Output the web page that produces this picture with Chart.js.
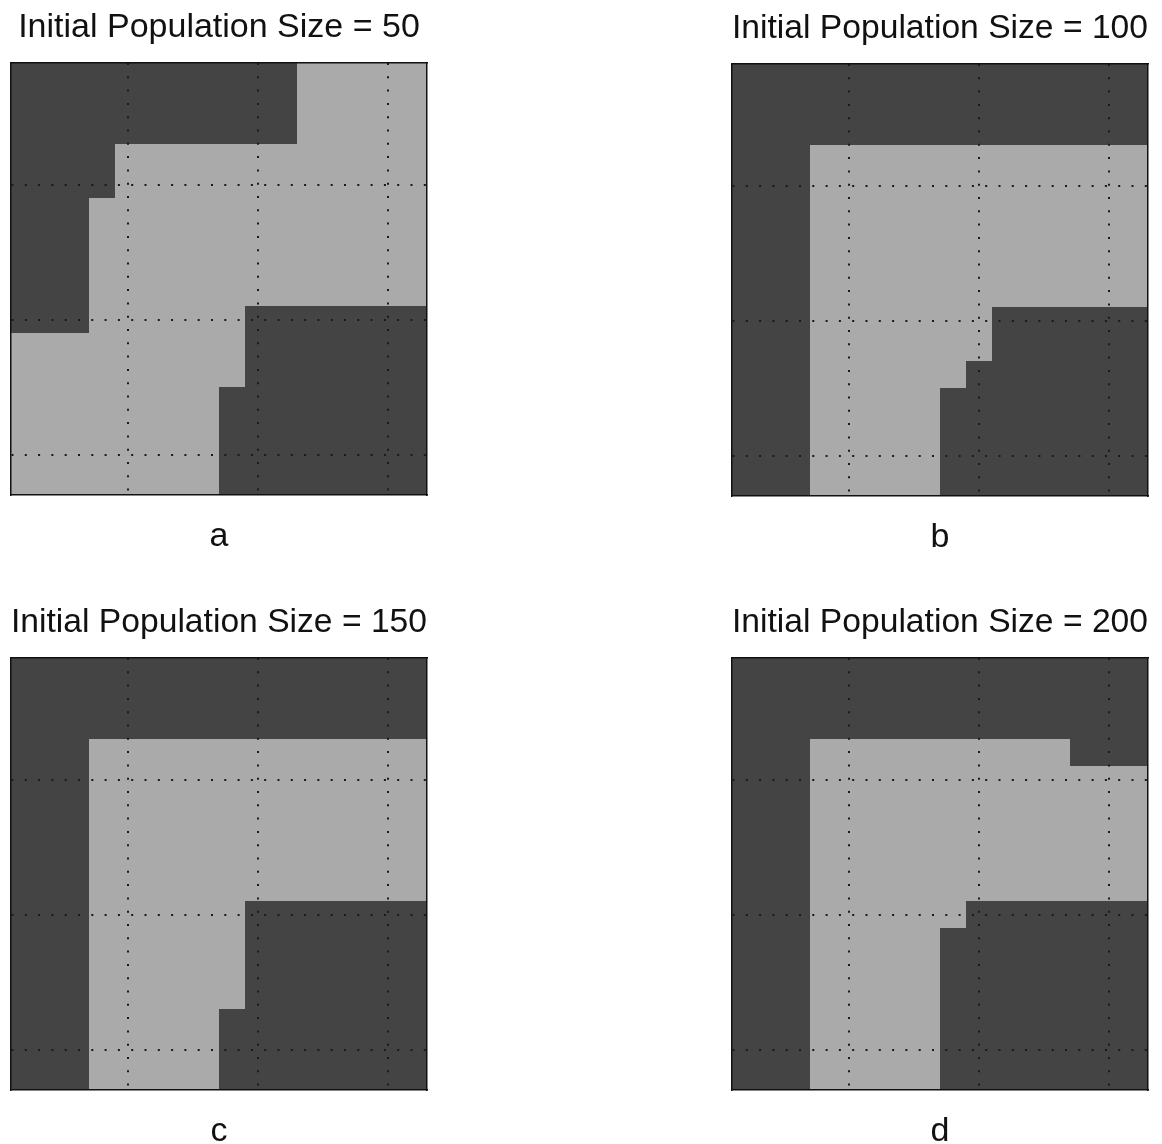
<!DOCTYPE html>
<html>
<head>
<meta charset="utf-8">
<title>Initial Population Size</title>
<script src="https://cdn.jsdelivr.net/npm/chart.js@4.4.1/dist/chart.umd.min.js"></script>
<style>
  html, body { margin: 0; padding: 0; background: #ffffff; overflow: hidden; }
  body { width: 1162px; height: 1144px; position: relative; }
  canvas.panel { position: absolute; }
</style>
</head>
<body>
<canvas id="panelA" class="panel" width="440" height="560" style="left:0px;top:0px;width:440px;height:560px"></canvas>
<canvas id="panelB" class="panel" width="440" height="560" style="left:721px;top:1px;width:440px;height:560px"></canvas>
<canvas id="panelC" class="panel" width="440" height="560" style="left:0px;top:595px;width:440px;height:560px"></canvas>
<canvas id="panelD" class="panel" width="440" height="560" style="left:721px;top:595px;width:440px;height:560px"></canvas>
<script>
// Panel titles and sub-figure letters
const panelTitles = [
  'Initial Population Size = 50',
  'Initial Population Size = 100',
  'Initial Population Size = 150',
  'Initial Population Size = 200'
];
const panelLabels = ['a', 'b', 'c', 'd'];

// Tick positions of the dotted grid (cells are numbered 1..16)
const gridTicks = [5, 10, 15];

// 16 x 16 region maps, row 1 at the top: '1' = dark region, '0' = light region
const mapA = [
  '1111111111100000',
  '1111111111100000',
  '1111111111100000',
  '1111000000000000',
  '1111000000000000',
  '1110000000000000',
  '1110000000000000',
  '1110000000000000',
  '1110000000000000',
  '1110000001111111',
  '0000000001111111',
  '0000000001111111',
  '0000000011111111',
  '0000000011111111',
  '0000000011111111',
  '0000000011111111'
];
const mapB = [
  '1111111111111111',
  '1111111111111111',
  '1111111111111111',
  '1110000000000000',
  '1110000000000000',
  '1110000000000000',
  '1110000000000000',
  '1110000000000000',
  '1110000000000000',
  '1110000000111111',
  '1110000000111111',
  '1110000001111111',
  '1110000011111111',
  '1110000011111111',
  '1110000011111111',
  '1110000011111111'
];
const mapC = [
  '1111111111111111',
  '1111111111111111',
  '1111111111111111',
  '1110000000000000',
  '1110000000000000',
  '1110000000000000',
  '1110000000000000',
  '1110000000000000',
  '1110000000000000',
  '1110000001111111',
  '1110000001111111',
  '1110000001111111',
  '1110000001111111',
  '1110000011111111',
  '1110000011111111',
  '1110000011111111'
];
const mapD = [
  '1111111111111111',
  '1111111111111111',
  '1111111111111111',
  '1110000000000111',
  '1110000000000000',
  '1110000000000000',
  '1110000000000000',
  '1110000000000000',
  '1110000000000000',
  '1110000001111111',
  '1110000011111111',
  '1110000011111111',
  '1110000011111111',
  '1110000011111111',
  '1110000011111111',
  '1110000011111111'
];

const DARK = '#444444';
const LIGHT = '#aaaaaa';
const INK = '#111111';
const FONT = '"Liberation Sans", Arial, Helvetica, sans-serif';

// Turn each row of a map into horizontal runs of equal value (floating bars)
function rowRuns(map) {
  const runs = { dark: [], light: [] };
  map.forEach((row, r) => {
    let start = 0;
    for (let c = 1; c <= row.length; c++) {
      if (c === row.length || row[c] !== row[start]) {
        const bar = { x: [start + 0.5, c + 0.5], y: r + 1 };
        (row[start] === '1' ? runs.dark : runs.light).push(bar);
        start = c;
      }
    }
  });
  return runs;
}

function cellAxis(position, reverse, withGrid) {
  return {
    type: 'linear',
    position: position,
    min: 0.5,
    max: 16.5,
    reverse: reverse,
    offset: false,
    display: true,
    afterBuildTicks: axis => { axis.ticks = gridTicks.map(v => ({ value: v })); },
    ticks: { display: false },
    grid: {
      display: withGrid,
      offset: false,
      drawTicks: false,
      color: '#1a1a1a',
      lineWidth: 2,
      z: 1
    },
    border: {
      display: true,
      color: INK,
      width: 1.5,
      dash: [2, 11.3],
      z: 2
    }
  };
}

function drawPanel(canvasId, map, title, label, padLeft, padRight) {
  const runs = rowRuns(map);
  const barStyle = {
    borderWidth: 0,
    grouped: false,
    barPercentage: 1,
    categoryPercentage: 1,
    inflateAmount: 0
  };
  new Chart(document.getElementById(canvasId), {
    type: 'bar',
    data: {
      datasets: [
        Object.assign({ label: 'dark', data: runs.dark, backgroundColor: DARK }, barStyle),
        Object.assign({ label: 'light', data: runs.light, backgroundColor: LIGHT }, barStyle)
      ]
    },
    options: {
      indexAxis: 'y',
      responsive: false,
      animation: false,
      events: [],
      layout: { padding: { left: padLeft, right: padRight, top: 0, bottom: 0 } },
      scales: {
        x: cellAxis('bottom', false, true),
        y: cellAxis('left', true, true),
        x2: cellAxis('top', false, false),
        y2: cellAxis('right', true, false)
      },
      plugins: {
        legend: { display: false },
        tooltip: { enabled: false },
        title: {
          display: true,
          text: title,
          color: INK,
          font: { family: FONT, size: 34, weight: 'normal', lineHeight: 1 },
          padding: { top: 11, bottom: 18 }
        },
        subtitle: {
          display: true,
          position: 'bottom',
          text: label,
          color: INK,
          font: { family: FONT, size: 34, weight: 'normal', lineHeight: 1 },
          padding: { top: 25, bottom: 6 }
        }
      }
    }
  });
}

drawPanel('panelA', mapA, panelTitles[0], panelLabels[0], 11, 13);
drawPanel('panelB', mapB, panelTitles[1], panelLabels[1], 11, 13);
drawPanel('panelC', mapC, panelTitles[2], panelLabels[2], 11, 13);
drawPanel('panelD', mapD, panelTitles[3], panelLabels[3], 11, 13);
</script>
</body>
</html>
